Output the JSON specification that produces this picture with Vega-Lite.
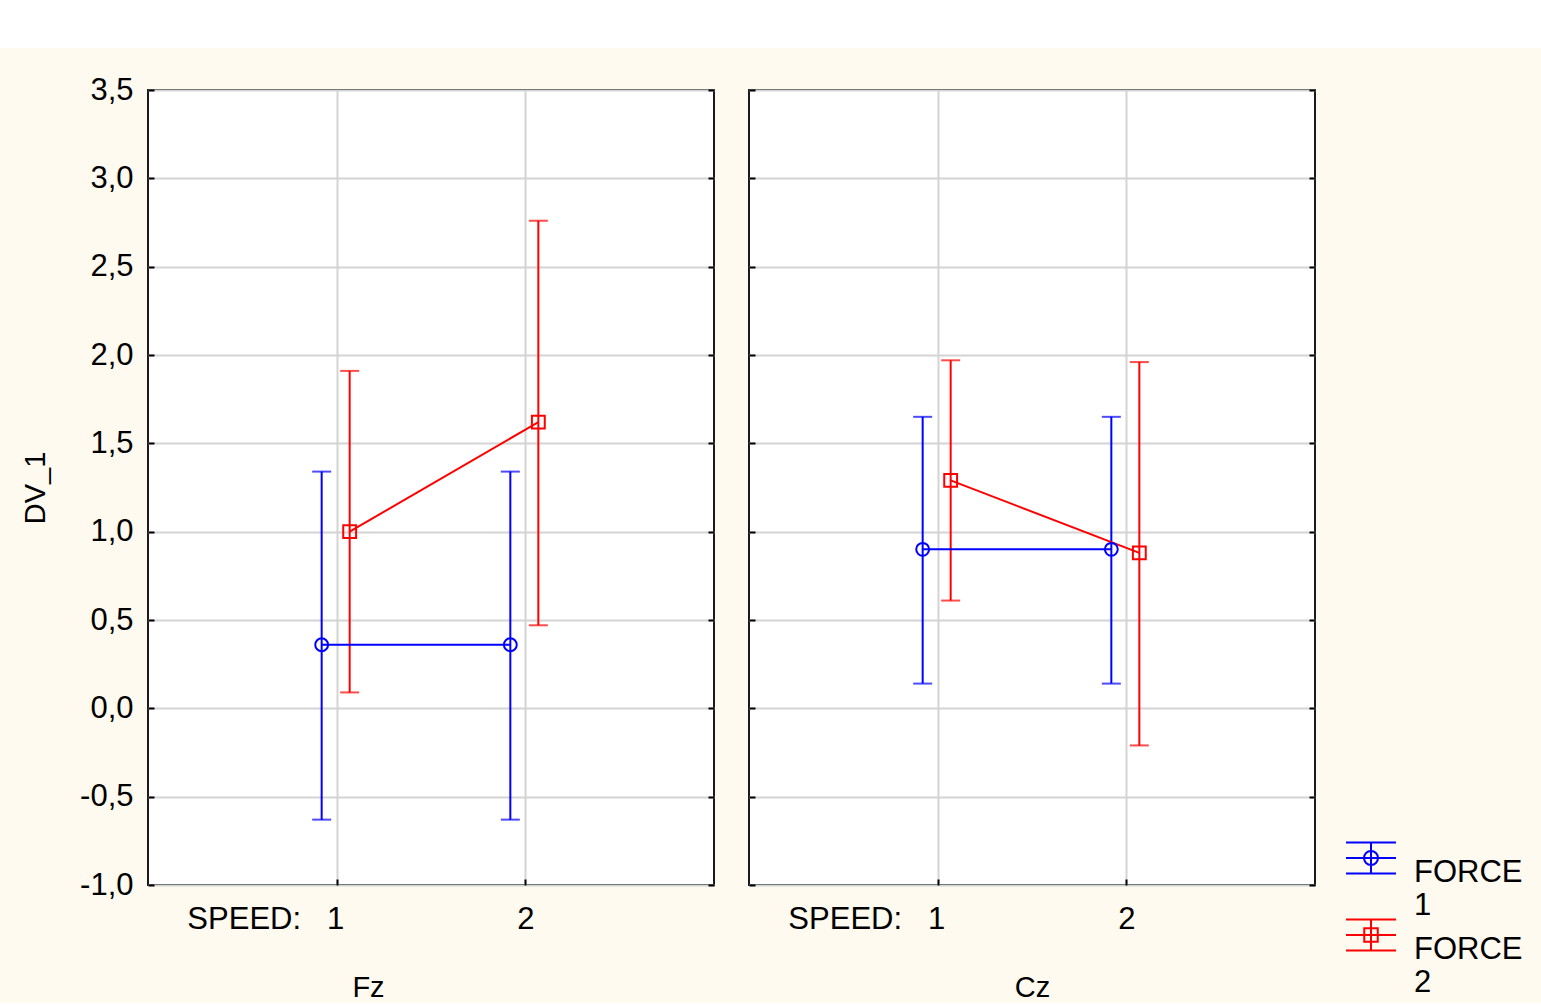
{
  "$schema": "https://vega.github.io/schema/vega-lite/v6.json",
  "background": "#FFFAEF",
  "padding": 0,
  "config": {
    "locale": {"number": {"decimal": ",", "thousands": ".", "grouping": [3], "currency": ["", ""], "minus": "-"}},
    "font": "Liberation Sans",
    "axis": {
      "labelFont": "Liberation Sans", "titleFont": "Liberation Sans",
      "labelColor": "black", "titleColor": "black", "titleFontWeight": "normal",
      "domain": false, "gridColor": "#D4D4D4", "gridWidth": 2,
      "tickColor": "black", "tickWidth": 2, "tickSize": -6
    },
    "legend": {"labelFont": "Liberation Sans"}
  },
  "datasets": {
    "means": [
      {"region": "Fz", "speed": 1, "force": 1, "mean": 0.36, "lo": -0.63, "hi": 1.34},
      {"region": "Fz", "speed": 2, "force": 1, "mean": 0.36, "lo": -0.63, "hi": 1.34},
      {"region": "Fz", "speed": 1, "force": 2, "mean": 1.00, "lo": 0.09, "hi": 1.91},
      {"region": "Fz", "speed": 2, "force": 2, "mean": 1.62, "lo": 0.47, "hi": 2.76},
      {"region": "Cz", "speed": 1, "force": 1, "mean": 0.90, "lo": 0.14, "hi": 1.65},
      {"region": "Cz", "speed": 2, "force": 1, "mean": 0.90, "lo": 0.14, "hi": 1.65},
      {"region": "Cz", "speed": 1, "force": 2, "mean": 1.29, "lo": 0.61, "hi": 1.97},
      {"region": "Cz", "speed": 2, "force": 2, "mean": 0.88, "lo": -0.21, "hi": 1.96}
    ]
  },
  "bounds": "flush",
  "spacing": 42,
  "vconcat": [
    {
      "width": 1541, "height": 48,
      "view": {"fill": "white", "stroke": null},
      "data": {"values": []},
      "mark": "rect",
      "encoding": {}
    },
    {
      "bounds": "flush",
      "spacing": 35,
      "data": {"name": "means"},
      "hconcat": [
        {
          "width": 113, "height": 10,
          "view": {"fill": "transparent", "stroke": null},
          "data": {"values": []},
          "mark": "rect",
          "encoding": {}
        },
        {
          "width": 566, "height": 795,
          "view": {"fill": "white", "stroke": "#1A1A1A", "strokeWidth": 2},
          "transform": [{"filter": "datum.region == 'Fz'"}],
          "encoding": {
            "x": {"field": "speed", "type": "ordinal", "scale": {"type": "point", "padding": 1},
              "axis": {"title": "Fz", "titleX": 220, "titleFontSize": 29, "titlePadding": 39,
                "labelFontSize": 31, "labelPadding": 25, "labelAngle": 0,
                "labelExpr": "datum.value == 1 ? 'SPEED:\u00a0\u00a0\u00a01' : datum.label",
                "labelAlign": {"condition": {"test": "datum.value == 1", "value": "right"}, "value": "center"},
                "labelOffset": {"condition": {"test": "datum.value == 1", "value": 7}, "value": 0},
                "grid": true}},
            "xOffset": {"field": "force", "type": "nominal", "scale": {"type": "point", "padding": 0, "range": [-15, 13]}},
            "color": {"field": "force", "type": "nominal", "scale": {"domain": [1, 2], "range": ["#0000FF", "#FF0000"]}, "legend": null}
          },
          "layer": [
            {
              "layer": [
                {"mark": {"type": "rule", "strokeWidth": 2},
                  "encoding": {"y": {"field": "lo", "type": "quantitative", "scale": {"domain": [-1, 3.5], "nice": false, "zero": false},
                    "axis": {"title": "DV_1", "titleFontSize": 29, "titlePadding": 29, "labelFontSize": 31, "labelPadding": 21,
                      "values": [-1, -0.5, 0, 0.5, 1, 1.5, 2, 2.5, 3, 3.5], "format": ".1f", "grid": true}},
                    "y2": {"field": "hi"}}},
                {"mark": {"type": "tick", "thickness": 2, "size": 19, "orient": "horizontal"},
                  "encoding": {"y": {"field": "hi", "type": "quantitative"}}},
                {"mark": {"type": "tick", "thickness": 2, "size": 19, "orient": "horizontal"},
                  "encoding": {"y": {"field": "lo", "type": "quantitative"}}},
                {"mark": {"type": "line", "strokeWidth": 2},
                  "encoding": {"y": {"field": "mean", "type": "quantitative"}}},
                {"transform": [{"filter": "datum.force == 1"}],
                  "mark": {"type": "point", "shape": "circle", "filled": false, "strokeWidth": 2, "size": 165, "opacity": 1},
                  "encoding": {"y": {"field": "mean", "type": "quantitative"}}},
                {"transform": [{"filter": "datum.force == 2"}],
                  "mark": {"type": "point", "shape": "square", "filled": false, "strokeWidth": 2, "size": 165, "opacity": 1},
                  "encoding": {"y": {"field": "mean", "type": "quantitative"}}},
                {"transform": [{"filter": "false"}],
                  "mark": {"type": "point", "filled": false, "strokeWidth": 2, "opacity": 1},
                  "encoding": {"y": {"field": "mean", "type": "quantitative"},
                    "shape": {"field": "force", "type": "nominal",
                      "scale": {"domain": [1], "range": ["M-1,-0.62H1M-1,0H1M-1,0.62H1M0,-0.62V0.62M0.28,0A0.28,0.28 0 1,1 -0.28,0A0.28,0.28 0 1,1 0.28,0"]},
                      "legend": {"orient": "none", "legendX": 1197, "legendY": 742, "title": null, "padding": 0,
                        "labelExpr": "['FORCE', datum.label]", "labelFontSize": 31, "labelColor": "black",
                        "labelBaseline": "top", "labelOffset": 17, "rowPadding": 0,
                        "symbolSize": 2500, "symbolStrokeWidth": 2, "symbolFillColor": "transparent",
                        "symbolStrokeColor": "#0000FF", "symbolOpacity": 1}}}}
              ],
              "resolve": {"scale": {"shape": "independent"}}
            },
            {"mark": {"type": "rule", "opacity": 0},
              "encoding": {"y": {"field": "mean", "type": "quantitative", "scale": {"domain": [-1, 3.5], "nice": false, "zero": false},
                "axis": {"orient": "right", "title": null, "labels": false, "grid": false,
                  "values": [-1, -0.5, 0, 0.5, 1, 1.5, 2, 2.5, 3, 3.5]}}}}
          ],
          "resolve": {"scale": {"y": "independent", "shape": "independent"}}
        },
        {
          "width": 566, "height": 795,
          "view": {"fill": "white", "stroke": "#1A1A1A", "strokeWidth": 2},
          "transform": [{"filter": "datum.region == 'Cz'"}],
          "encoding": {
            "x": {"field": "speed", "type": "ordinal", "scale": {"type": "point", "padding": 1},
              "axis": {"title": "Cz", "titleFontSize": 29, "titlePadding": 39,
                "labelFontSize": 31, "labelPadding": 25, "labelAngle": 0,
                "labelExpr": "datum.value == 1 ? 'SPEED:\u00a0\u00a0\u00a01' : datum.label",
                "labelAlign": {"condition": {"test": "datum.value == 1", "value": "right"}, "value": "center"},
                "labelOffset": {"condition": {"test": "datum.value == 1", "value": 7}, "value": 0},
                "grid": true}},
            "xOffset": {"field": "force", "type": "nominal", "scale": {"type": "point", "padding": 0, "range": [-15, 13]}},
            "color": {"field": "force", "type": "nominal", "scale": {"domain": [1, 2], "range": ["#0000FF", "#FF0000"]}, "legend": null}
          },
          "layer": [
            {
              "layer": [
                {"mark": {"type": "rule", "strokeWidth": 2},
                  "encoding": {"y": {"field": "lo", "type": "quantitative", "scale": {"domain": [-1, 3.5], "nice": false, "zero": false},
                    "axis": {"title": null, "labels": false,
                      "values": [-1, -0.5, 0, 0.5, 1, 1.5, 2, 2.5, 3, 3.5], "grid": true}},
                    "y2": {"field": "hi"}}},
                {"mark": {"type": "tick", "thickness": 2, "size": 19, "orient": "horizontal"},
                  "encoding": {"y": {"field": "hi", "type": "quantitative"}}},
                {"mark": {"type": "tick", "thickness": 2, "size": 19, "orient": "horizontal"},
                  "encoding": {"y": {"field": "lo", "type": "quantitative"}}},
                {"mark": {"type": "line", "strokeWidth": 2},
                  "encoding": {"y": {"field": "mean", "type": "quantitative"}}},
                {"transform": [{"filter": "datum.force == 1"}],
                  "mark": {"type": "point", "shape": "circle", "filled": false, "strokeWidth": 2, "size": 165, "opacity": 1},
                  "encoding": {"y": {"field": "mean", "type": "quantitative"}}},
                {"transform": [{"filter": "datum.force == 2"}],
                  "mark": {"type": "point", "shape": "square", "filled": false, "strokeWidth": 2, "size": 165, "opacity": 1},
                  "encoding": {"y": {"field": "mean", "type": "quantitative"}}},
                {"transform": [{"filter": "false"}],
                  "mark": {"type": "point", "filled": false, "strokeWidth": 2, "opacity": 1},
                  "encoding": {"y": {"field": "mean", "type": "quantitative"},
                    "shape": {"field": "force", "type": "nominal",
                      "scale": {"domain": [2], "range": ["M-1,-0.62H1M-1,0H1M-1,0.62H1M0,-0.62V0.62M-0.27,-0.27H0.27V0.27H-0.27Z"]},
                      "legend": {"orient": "none", "legendX": 596, "legendY": 819, "title": null, "padding": 0,
                        "labelExpr": "['FORCE', datum.label]", "labelFontSize": 31, "labelColor": "black",
                        "labelBaseline": "top", "labelOffset": 17, "rowPadding": 0,
                        "symbolSize": 2500, "symbolStrokeWidth": 2, "symbolFillColor": "transparent",
                        "symbolStrokeColor": "#FF0000", "symbolOpacity": 1}}}}
              ],
              "resolve": {"scale": {"shape": "independent"}}
            },
            {"mark": {"type": "rule", "opacity": 0},
              "encoding": {"y": {"field": "mean", "type": "quantitative", "scale": {"domain": [-1, 3.5], "nice": false, "zero": false},
                "axis": {"orient": "right", "title": null, "labels": false, "grid": false,
                  "values": [-1, -0.5, 0, 0.5, 1, 1.5, 2, 2.5, 3, 3.5]}}}}
          ],
          "resolve": {"scale": {"y": "independent", "shape": "independent"}}
        }
      ],
      "resolve": {"scale": {"shape": "independent"}}
    }
  ],
  "resolve": {"scale": {"shape": "independent"}}
}
